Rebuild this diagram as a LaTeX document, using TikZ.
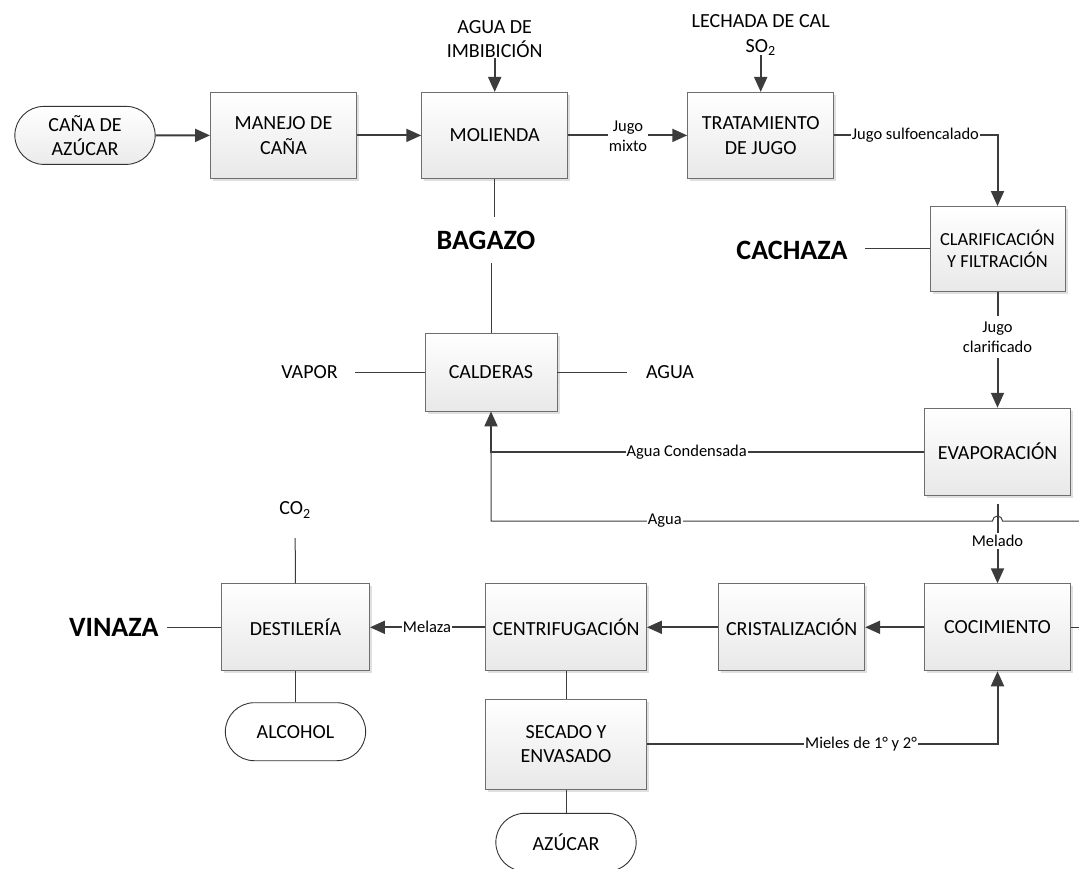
\documentclass[tikz,border=0pt]{standalone}
\usepackage{fontspec}
\setmainfont{Carlito}
\usetikzlibrary{arrows.meta,shapes.misc,shadows}
\definecolor{lnc}{HTML}{3C3C3C}
\definecolor{bdc}{HTML}{6E6E6E}
\tikzset{
 proc/.style={draw=bdc, line width=0.9pt, top color=white, bottom color=black!9,
   minimum width=146pt, minimum height=86pt, align=center, inner sep=2pt,
   font=\fontsize{20}{24.5}\selectfont,
   drop shadow={shadow xshift=2.5pt, shadow yshift=-2.5pt, fill=black!12, opacity=1}},
 term/.style={rounded rectangle, draw=black!80, line width=0.9pt, fill=white,
   minimum width=147pt, minimum height=58pt, align=center,
   font=\fontsize{20}{24.5}\selectfont},
 flow/.style={draw=lnc, line width=2pt, -{Triangle[length=15pt,width=13pt]}},
 plain/.style={draw=lnc, line width=1pt},
 lbl/.style={fill=white, inner xsep=1pt, inner ysep=2pt, align=center,
   font=\fontsize{16.5}{20}\selectfont},
 txt/.style={align=center, inner sep=0pt, font=\fontsize{20}{24.5}\selectfont},
 big/.style={inner sep=0pt, font=\fontsize{28}{32}\selectfont\bfseries},
}
\begin{document}
\begin{tikzpicture}[x=1pt,y=-1pt]
\useasboundingbox (0,0) rectangle (1079,869);
\clip (0,0) rectangle (1079,869);
% nodes
\node[term, top color=white, bottom color=black!8] (cana) at (85,135.4) {CAÑA DE\\AZÚCAR};
\node[proc] (man) at (283.5,135.4) {MANEJO DE\\CAÑA};
\node[proc] (mol) at (494.7,135.4) {MOLIENDA};
\node[proc] (tra) at (760.7,135.4) {TRATAMIENTO\\DE JUGO};
\node[txt] (imb) at (494.7,39) {AGUA DE\\IMBIBICIÓN};
\node[txt] (lech) at (760.7,35) {LECHADA DE CAL\\SO\textsubscript{2}};
\node[proc, minimum width=135pt, minimum height=85pt, font=\fontsize{18.4}{22}\selectfont] (clar) at (997.5,249) {CLARIFICACIÓN\\Y FILTRACIÓN};
\node[big] (cach) at (792,250.7) {CACHAZA};
\node[proc, minimum height=87pt] (evap) at (997.5,451.7) {EVAPORACIÓN};
\node[big] (bag) at (486,240) {BAGAZO};
\node[proc, minimum width=132pt, minimum height=78pt] (cal) at (491,372) {CALDERAS};
\node[txt] (vap) at (309.5,371.7) {VAPOR};
\node[txt] (agu) at (670,371.7) {AGUA};
\node[proc, minimum height=87pt] (coc) at (997.5,627.3) {COCIMIENTO};
\node[proc, minimum height=87pt] (cri) at (791.7,627.3) {CRISTALIZACIÓN};
\node[proc, minimum width=161pt, minimum height=87pt] (cen) at (566,627.3) {CENTRIFUGACIÓN};
\node[proc, minimum width=148pt, minimum height=87pt] (des) at (295.5,627.3) {DESTILERÍA};
\node[proc, minimum width=161pt, minimum height=90pt] (sec) at (566,744.3) {SECADO Y\\ENVASADO};
\node[term] (alc) at (295.5,731.7) {ALCOHOL};
\node[term] (azu) at (566,842.3) {AZÚCAR};
\node[big] (vin) at (113.8,627.3) {VINAZA};
\node[txt] (co2) at (295,510) {CO\textsubscript{2}};
\coordinate (aguain) at (1079,521);
\coordinate (cocout) at (1079,627.3);
% connectors
\draw[flow] (cana) -- (man);
\draw[flow] (man) -- (mol);
\draw[flow] (mol) -- (tra);
\draw[flow] (imb.south) -- (mol.north);
\draw[flow] (lech.south) -- (tra.north);
\draw[flow] (tra.east) -| (clar.north);
\draw[plain, shorten >=17pt] (clar.west) -- (clar.west -| cach.east);
\draw[flow] (clar.south) -- (evap.north);
\draw[plain, shorten >=14pt] (mol.south) -- (mol.south |- bag.north);
\draw[plain, shorten >=14pt] (cal.north) -- (cal.north |- bag.south);
\draw[plain, shorten >=17pt] (cal.west) -- (cal.west -| vap.east);
\draw[plain, shorten >=19pt] (cal.east) -- (cal.east -| agu.west);
\draw[flow] (evap.west) -| (cal.south);
\draw[plain] (aguain) -- (1002.5,521) arc[start angle=0, end angle=180, radius=5pt]
   -- (cal.south |- aguain) -- (cal.south |- evap.west);
\draw[flow, shorten <=8pt] (evap.south) -- (coc.north);
\draw[plain] (coc.east) -- (cocout);
\draw[flow] (coc) -- (cri);
\draw[flow] (cri) -- (cen);
\draw[flow] (cen) -- (des);
\draw[plain, shorten <=20pt] (co2.south) -- (des.north);
\draw[plain, shorten >=8pt] (des.west) -- (vin.east);
\draw[plain] (des.south) -- (alc.north);
\draw[plain] (cen.south) -- (sec.north);
\draw[plain] (sec.south) -- (azu.north);
\draw[flow] (sec.east) -| (coc.south);
% labels
\node[lbl] (l1) at (628,136) {Jugo\\mixto};
\node[lbl] (l2) at (915.4,135.4) {Jugo sulfoencalado};
\node[lbl, inner ysep=6pt] (l3) at (997.5,337) {Jugo\\clarificado};
\node[lbl] (l4) at (686.7,451.7) {Agua Condensada};
\node[lbl] (l5) at (664.7,521) {Agua};
\node[lbl] (l6) at (997.5,541) {Melado};
\node[lbl] (l7) at (427,627.3) {Melaza};
\node[lbl] (l8) at (861,744.3) {Mieles de 1° y 2°};
\end{tikzpicture}
\end{document}
